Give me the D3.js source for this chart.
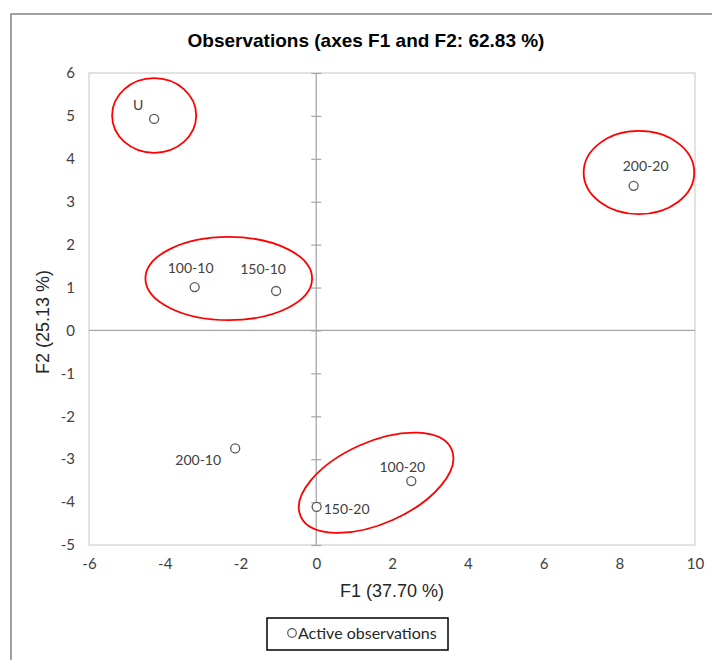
<!DOCTYPE html>
<html>
<head>
<meta charset="utf-8">
<script src="https://cdn.jsdelivr.net/npm/d3@7"></script>
<style>
  body { margin: 0; background: #fff; }
  svg { display: block; }
</style>
</head>
<body>
<svg id="chart" width="712" height="660"></svg>
<script>
// observations (PCA scores)
var obsNames = ["U", "100-10", "150-10", "200-10", "100-20", "150-20", "200-20"];
var f1Values = [-4.28, -3.21, -1.06, -2.14, 2.51, 0.01, 8.38];
var f2Values = [4.93, 1.01, 0.92, -2.75, -3.51, -4.11, 3.37];

var xTicks = [-6, -4, -2, 0, 2, 4, 6, 8, 10];
var yTicks = [-5, -4, -3, -2, -1, 0, 1, 2, 3, 4, 5, 6];

var titleText = "Observations (axes F1 and F2: 62.83 %)";
var xTitle = "F1 (37.70 %)";
var yTitle = "F2 (25.13 %)";
var legendText = "Active observations";

// red hand drawn groupings: centre in axis units, radii in axis units
var groupCx = [-4.28, 8.52, -2.31, 1.58];
var groupCy = [5.01, 3.68, 1.21, -3.55];
var groupRx = [1.11, 1.46, 2.2, 2.18];
var groupRy = [0.87, 0.97, 0.97, 0.95];
var groupAngle = [0, 0, 0, -24];

// label offsets in px (where excel put them)
var labelDx = [-16, -4, -13, -37, -9, 30, 12];
var labelDy = [-14, -19, -22, 12, -14, 2, -20];

var svg = d3.select("#chart");
var plotLeft = 89, plotRight = 695, plotTop = 73, plotBottom = 545;

var x = d3.scaleLinear().domain([-6, 10]).range([plotLeft, plotRight]);
var y = d3.scaleLinear().domain([-5, 6]).range([plotBottom, plotTop]);
var fmt = function(d) { return String(d); };

// outer frame of the chart
svg.append("rect")
    .attr("x", 11).attr("y", 14)
    .attr("width", 740).attr("height", 700)
    .attr("fill", "none")
    .attr("stroke", "#8a8a8a")
    .attr("stroke-width", 1.6);

svg.append("text")
    .attr("x", 366).attr("y", 47)
    .attr("text-anchor", "middle")
    .style("font-family", "'Liberation Sans', Arial, sans-serif")
    .style("font-weight", "bold")
    .style("font-size", "19px")
    .attr("fill", "#000")
    .text(titleText);

// plot area border
svg.append("rect")
    .attr("x", plotLeft).attr("y", plotTop)
    .attr("width", plotRight - plotLeft).attr("height", plotBottom - plotTop)
    .attr("fill", "none")
    .attr("stroke", "#d9d9d9")
    .attr("stroke-width", 1.5);

// tick labels
var xAxis = svg.append("g")
    .attr("transform", "translate(0," + plotBottom + ")")
    .call(d3.axisBottom(x).tickValues(xTicks).tickSize(0).tickFormat(fmt));
xAxis.select(".domain").remove();
xAxis.selectAll("text")
    .attr("y", 24).attr("dy", 0)
    .style("font-family", "Lato, sans-serif")
    .style("font-size", "15px")
    .attr("fill", "#404040");

var yAxis = svg.append("g")
    .attr("transform", "translate(" + plotLeft + ",0)")
    .call(d3.axisLeft(y).tickValues(yTicks).tickSize(0).tickPadding(14).tickFormat(fmt));
yAxis.select(".domain").remove();
yAxis.selectAll("text")
    .style("font-family", "Lato, sans-serif")
    .style("font-size", "15px")
    .attr("fill", "#404040");

// zero lines
svg.append("line")
    .attr("x1", plotLeft).attr("x2", plotRight)
    .attr("y1", y(0)).attr("y2", y(0))
    .attr("stroke", "#a6a6a6").attr("stroke-width", 1.3);

var zeroAxis = svg.append("g")
    .attr("transform", "translate(" + (x(0) - 5) + ",0)")
    .call(d3.axisRight(y).tickValues(yTicks).tickSize(10).tickFormat(""));
zeroAxis.select(".domain").remove();
zeroAxis.selectAll("line").attr("stroke", "#a6a6a6").attr("stroke-width", 1.2);
svg.append("line")
    .attr("x1", x(0)).attr("x2", x(0))
    .attr("y1", plotTop).attr("y2", plotBottom)
    .attr("stroke", "#a6a6a6").attr("stroke-width", 1.3);

// axis titles
svg.append("text")
    .attr("x", 392).attr("y", 597)
    .attr("text-anchor", "middle")
    .style("font-family", "'Liberation Sans', Arial, sans-serif")
    .style("font-size", "18px")
    .attr("fill", "#262626")
    .text(xTitle);

svg.append("text")
    .attr("transform", "translate(49,322) rotate(-90)")
    .attr("text-anchor", "middle")
    .style("font-family", "'Liberation Sans', Arial, sans-serif")
    .style("font-size", "18px")
    .attr("fill", "#262626")
    .text(yTitle);

// groupings
svg.selectAll("ellipse.group")
    .data(groupCx)
    .enter()
    .append("ellipse")
    .attr("class", "group")
    .attr("transform", function(d, i) {
        return "translate(" + x(d) + "," + y(groupCy[i]) + ") rotate(" + groupAngle[i] + ")";
    })
    .attr("rx", function(d, i) { return x(groupRx[i]) - x(0); })
    .attr("ry", function(d, i) { return y(0) - y(groupRy[i]); })
    .attr("fill", "none")
    .attr("stroke", "#ff0000")
    .attr("stroke-width", 1.8);

// points
svg.selectAll("circle.obs")
    .data(obsNames)
    .enter()
    .append("circle")
    .attr("class", "obs")
    .attr("cx", function(d, i) { return x(f1Values[i]); })
    .attr("cy", function(d, i) { return y(f2Values[i]); })
    .attr("r", 4.5)
    .attr("fill", "#fff")
    .attr("stroke", "#595959")
    .attr("stroke-width", 1.3);

svg.selectAll("text.obs")
    .data(obsNames)
    .enter()
    .append("text")
    .attr("class", "obs")
    .attr("x", function(d, i) { return x(f1Values[i]) + labelDx[i]; })
    .attr("y", function(d, i) { return y(f2Values[i]) + labelDy[i]; })
    .attr("dy", "0.35em")
    .attr("text-anchor", "middle")
    .style("font-family", "Lato, sans-serif")
    .style("font-size", "14px")
    .attr("fill", "#404040")
    .text(function(d) { return d; });

// legend
var legend = svg.append("g");
legend.append("rect")
    .attr("x", 267).attr("y", 618)
    .attr("width", 181).attr("height", 32)
    .attr("fill", "#fff")
    .attr("stroke", "#000")
    .attr("stroke-width", 1.5);
legend.append("circle")
    .attr("cx", 292).attr("cy", 633)
    .attr("r", 4.3)
    .attr("fill", "#fff")
    .attr("stroke", "#595959")
    .attr("stroke-width", 1.2);
legend.append("text")
    .attr("x", 298).attr("y", 639)
    .style("font-family", "Lato, sans-serif")
    .style("font-size", "16px")
    .attr("fill", "#262626")
    .text(legendText);
</script>
</body>
</html>
